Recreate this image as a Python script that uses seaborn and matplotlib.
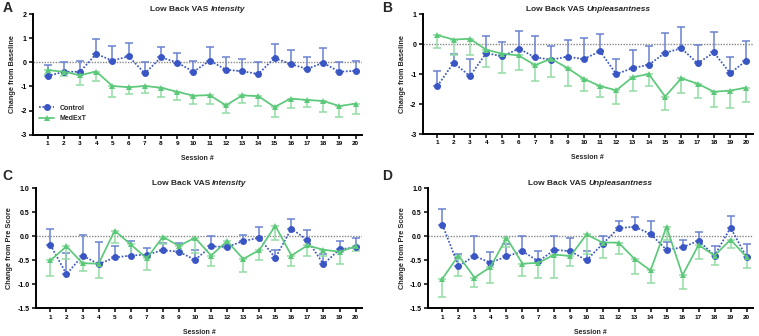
import numpy as np
import pandas as pd
import seaborn as sns
import matplotlib
matplotlib.use("Agg")
import matplotlib.pyplot as plt

sessions = list(range(1, 21))

# Panel A: Intensity, change from baseline
a_ctrl = [-0.57, -0.39, -0.39, 0.35, 0.07, 0.25, -0.46, 0.21, -0.01, -0.39,
          0.07, -0.30, -0.37, -0.48, 0.18, -0.07, -0.27, -0.02, -0.39, -0.35]
a_ctrl_up = [-0.10, 0.03, 0.05, 0.97, 0.68, 0.79, 0.00, 0.64, 0.40, 0.06,
             0.63, 0.23, 0.12, 0.00, 0.75, 0.50, 0.23, 0.59, 0.02, 0.05]
a_med = [-0.32, -0.39, -0.53, -0.38, -0.98, -1.03, -0.98, -1.05, -1.22, -1.38,
         -1.36, -1.78, -1.37, -1.40, -1.85, -1.50, -1.56, -1.60, -1.81, -1.71]
a_med_lo = [-0.50, -0.57, -0.93, -0.77, -1.45, -1.33, -1.27, -1.42, -1.58, -1.71,
            -1.71, -2.10, -1.70, -1.82, -2.25, -1.90, -1.87, -2.05, -2.28, -2.15]

# Panel B: Unpleasantness, change from baseline
b_ctrl = [-1.40, -0.62, -1.07, -0.30, -0.41, -0.15, -0.44, -0.52, -0.42, -0.50,
          -0.24, -1.00, -0.80, -0.69, -0.29, -0.14, -0.64, -0.28, -0.97, -0.55]
b_ctrl_up = [-0.90, -0.33, -0.51, 0.27, 0.07, 0.43, 0.26, -0.05, 0.15, 0.21,
             0.35, -0.50, -0.20, -0.06, 0.36, 0.57, -0.02, 0.42, -0.42, 0.09]
b_med = [0.30, 0.15, 0.18, -0.19, -0.32, -0.38, -0.70, -0.49, -0.80, -1.16,
         -1.40, -1.54, -1.10, -1.00, -1.75, -1.14, -1.32, -1.59, -1.55, -1.45]
b_med_lo = [-0.13, -0.35, -0.37, -0.77, -0.95, -0.87, -1.22, -1.10, -1.40, -1.58,
            -1.75, -2.00, -1.57, -1.40, -2.20, -1.63, -1.80, -2.10, -2.13, -1.93]

# Panel C: Intensity, change from pre score
c_ctrl = [-0.18, -0.79, -0.40, -0.58, -0.44, -0.40, -0.38, -0.29, -0.32, -0.49,
          -0.21, -0.22, -0.10, -0.03, -0.45, 0.16, -0.08, -0.58, -0.27, -0.23]
c_ctrl_up = [0.15, -0.34, 0.03, -0.12, -0.20, -0.09, -0.24, -0.13, -0.14, -0.28,
             0.01, -0.19, 0.02, 0.19, -0.28, 0.36, 0.14, -0.37, -0.09, -0.03]
c_med = [-0.50, -0.21, -0.56, -0.57, 0.12, -0.17, -0.46, -0.01, -0.20, -0.03,
         -0.40, -0.10, -0.47, -0.29, 0.22, -0.40, -0.19, -0.28, -0.32, -0.21]
c_med_lo = [-0.83, -0.47, -0.73, -0.86, -0.14, -0.40, -0.71, -0.15, -0.30, -0.35,
            -0.62, -0.25, -0.75, -0.49, -0.07, -0.62, -0.41, -0.42, -0.57, -0.30]

# Panel D: Unpleasantness, change from pre score
d_ctrl = [0.24, -0.62, -0.41, -0.55, -0.42, -0.31, -0.52, -0.28, -0.31, -0.50,
          -0.16, 0.17, 0.20, 0.05, -0.28, -0.23, -0.09, -0.40, 0.18, -0.43]
d_ctrl_up = [0.58, -0.37, 0.00, -0.32, -0.16, 0.00, -0.30, 0.00, -0.03, -0.30,
             0.00, 0.33, 0.41, 0.32, -0.11, -0.07, 0.09, -0.20, 0.42, -0.17]
d_med = [-0.88, -0.40, -0.86, -0.64, -0.03, -0.57, -0.55, -0.38, -0.41, 0.04,
         -0.13, -0.13, -0.47, -0.71, 0.20, -0.81, -0.18, -0.40, -0.07, -0.43]
d_med_lo = [-1.27, -0.83, -1.05, -0.98, -0.23, -0.83, -0.86, -0.86, -0.62, -0.36,
            -0.45, -0.36, -0.78, -0.98, -0.08, -1.10, -0.47, -0.60, -0.25, -0.67]

groups = ["Control", "MedExT"]
titles_plain = ["Low Back VAS ", "Low Back VAS ", "Low Back VAS ", "Low Back VAS "]
titles_ital = ["Intensity", "Unpleasantness", "Intensity", "Unpleasantness"]
ylabels = ["Change from Baseline", "Change from Baseline",
           "Change from Pre Score", "Change from Pre Score"]
letters = ["A", "B", "C", "D"]

sns.set_theme(style="ticks")
plt.rcParams["font.family"] = ["Liberation Sans", "DejaVu Sans"]
plt.rcParams["font.weight"] = "bold"

BLUE = "#3a56c4"
BLUE_ERR = "#6a82d2"
GREEN = "#5cc97a"
GREEN_ERR = "#93dca5"

fig = plt.figure(figsize=(7.59, 3.36), dpi=100)
positions = [
    [0.0435, 0.599, 0.4335, 0.359],
    [0.557, 0.601, 0.435, 0.357],
    [0.0474, 0.0824, 0.4296, 0.357],
    [0.564, 0.0824, 0.428, 0.357],
]
panels = [
    (a_ctrl, a_ctrl_up, a_med, a_med_lo, (-3, 2), [-3, -2, -1, 0, 1, 2], "{:.0f}"),
    (b_ctrl, b_ctrl_up, b_med, b_med_lo, (-3, 1), [-3, -2, -1, 0, 1], "{:.0f}"),
    (c_ctrl, c_ctrl_up, c_med, c_med_lo, (-1.5, 1.0), [-1.5, -1.0, -0.5, 0.0, 0.5, 1.0], "{:.1f}"),
    (d_ctrl, d_ctrl_up, d_med, d_med_lo, (-1.5, 1.0), [-1.5, -1.0, -0.5, 0.0, 0.5, 1.0], "{:.1f}"),
]
letter_pos = [(0.003, 0.998), (0.503, 0.998), (0.003, 0.497), (0.503, 0.497)]

axes = []
for i, (ctrl, ctrl_up, med, med_lo, ylim, yticks, fmt) in enumerate(panels):
    ax = fig.add_axes(positions[i])
    axes.append(ax)
    df = pd.DataFrame({
        "Session": sessions * 2,
        "Change": list(ctrl) + list(med),
        "Group": ["Control"] * 20 + ["MedExT"] * 20,
    })
    ax.axhline(0, color="#888888", ls=(0, (1, 1)), lw=1.0, zorder=1)
    # one-sided error bars
    ctrl_arr = np.array(ctrl)
    med_arr = np.array(med)
    ax.errorbar(sessions, ctrl_arr, yerr=[np.zeros(20), np.array(ctrl_up) - ctrl_arr],
                fmt="none", ecolor=BLUE_ERR, elinewidth=1.1, capsize=2.6, capthick=1.1, zorder=2)
    ax.errorbar(sessions, med_arr, yerr=[med_arr - np.array(med_lo), np.zeros(20)],
                fmt="none", ecolor=GREEN_ERR, elinewidth=1.1, capsize=2.6, capthick=1.1, zorder=2)
    sns.lineplot(data=df, x="Session", y="Change", hue="Group", style="Group",
                 palette={"Control": BLUE, "MedExT": GREEN},
                 markers={"Control": "o", "MedExT": "^"},
                 dashes={"Control": (1.0, 1.0), "MedExT": ""},
                 markersize=5, markeredgewidth=0, linewidth=1.25,
                 ax=ax, legend=(i == 0), zorder=3)
    ax.set_xlim(0.1, 20.4)
    ax.set_ylim(*ylim)
    ax.set_xticks(sessions)
    ax.set_xticklabels([str(s) for s in sessions], fontsize=4.6, fontweight="bold")
    ax.set_yticks(yticks)
    ax.set_yticklabels([fmt.format(v) for v in yticks], fontsize=5, fontweight="bold")
    ax.tick_params(axis="both", direction="out", length=3, width=1.1, pad=1.5, colors="black")
    for s in ["left", "bottom"]:
        ax.spines[s].set_linewidth(1.4)
        ax.spines[s].set_color("black")
    for s in ["top", "right"]:
        ax.spines[s].set_visible(False)
    ax.set_xlabel("Session #", fontsize=5, fontweight="bold", labelpad=6.5)
    ax.set_ylabel(ylabels[i], fontsize=5.3, fontweight="bold", labelpad=3)
    ax.set_facecolor("white")
    fig.text(letter_pos[i][0], letter_pos[i][1], letters[i], fontsize=10,
             fontweight="bold", ha="left", va="top")
    if i == 0:
        leg = ax.legend(loc="lower left", bbox_to_anchor=(0.01, 0.08), frameon=False,
                        fontsize=5, handlelength=2.2, handletextpad=0.8, labelspacing=0.5,
                        borderaxespad=0)
        for t in leg.get_texts():
            t.set_fontweight("bold")

# two-part titles: plain bold + bold italic, centred over each axis
fig.canvas.draw()
renderer = fig.canvas.get_renderer()
for i, ax in enumerate(axes):
    t1 = ax.text(0.5, 1.01, titles_plain[i], transform=ax.transAxes, fontsize=6,
                 fontweight="bold", ha="left", va="bottom")
    t2 = ax.text(0.5, 1.01, titles_ital[i], transform=ax.transAxes, fontsize=6,
                 fontweight="bold", fontstyle="italic", ha="left", va="bottom")
    w1 = t1.get_window_extent(renderer).width
    w2 = t2.get_window_extent(renderer).width
    axw = ax.get_window_extent(renderer).width
    start = 0.5 - (w1 + w2) / 2 / axw
    t1.set_x(start)
    t2.set_x(start + w1 / axw)

fig.savefig("out.png", dpi=100, facecolor="white")
